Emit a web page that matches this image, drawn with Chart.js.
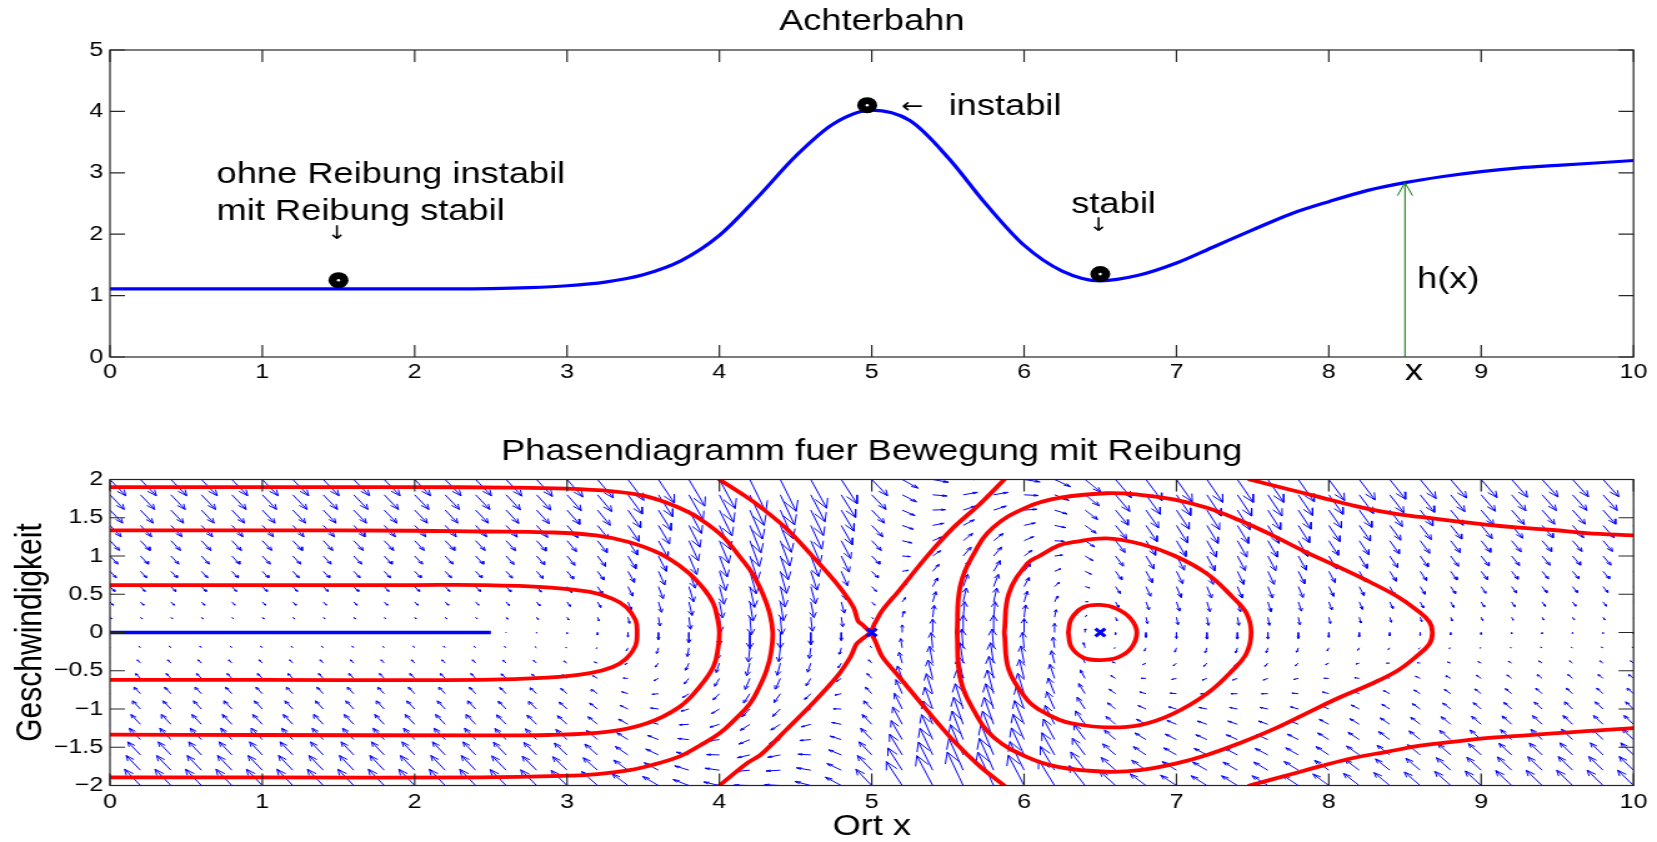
<!DOCTYPE html>
<html>
<head>
<meta charset="utf-8">
<script src="https://cdn.jsdelivr.net/npm/chart.js@4.4.1/dist/chart.umd.min.js"></script>
<style>
  html, body { margin: 0; padding: 0; background: #fff; }
  #wrap { position: relative; width: 1657px; height: 842px; overflow: hidden; background: #fff; }
  canvas { position: absolute; left: 0; }
</style>
</head>
<body>
<div id="wrap">
  <canvas id="oben" width="1326" height="420" style="top:0px;width:1657px;height:420px"></canvas>
  <canvas id="unten" width="1326" height="422" style="top:420px;width:1657px;height:422px"></canvas>
</div>
<script>
// ---------- Achterbahn: Hoehenprofil h(x) ----------
const bahnX = [0, 0.25, 0.5, 0.75, 1, 1.25, 1.5, 1.75, 2, 2.25, 2.5, 2.75, 3, 3.25, 3.5, 3.75,
  4, 4.25, 4.5, 4.75, 5, 5.25, 5.5, 5.75, 6, 6.25, 6.5, 6.75, 7, 7.25, 7.5, 7.75,
  8, 8.25, 8.5, 8.75, 9, 9.25, 9.5, 9.75, 10];
const bahnH = [1.11, 1.11, 1.11, 1.11, 1.11, 1.11, 1.11, 1.11, 1.11, 1.11, 1.115, 1.13, 1.16, 1.22, 1.34, 1.57,
  1.98, 2.60, 3.27, 3.80, 4.02, 3.85, 3.25, 2.49, 1.82, 1.40, 1.24, 1.33, 1.53, 1.80, 2.07, 2.33,
  2.53, 2.71, 2.84, 2.94, 3.02, 3.08, 3.12, 3.16, 3.20];

// Kugeln auf der Bahn
const kugelX = [1.5, 4.97, 6.5];
const kugelY = [1.25, 4.10, 1.35];

// Markierte Stelle x mit Pfeil bis zur Bahn
const pfeilX = 8.5;

// Achsenteilungen
const xTicks = [0, 1, 2, 3, 4, 5, 6, 7, 8, 9, 10];
const yTicksOben = [0, 1, 2, 3, 4, 5];
const yTicksUnten = [-2, -1.5, -1, -0.5, 0, 0.5, 1, 1.5, 2];

// ---------- Phasendiagramm: Richtungsfeld ----------
const gitterX = [0, 0.2, 0.4, 0.6, 0.8, 1, 1.2, 1.4, 1.6, 1.8, 2, 2.2, 2.4, 2.6, 2.8, 3, 3.2, 3.4, 3.6, 3.8,
  4, 4.2, 4.4, 4.6, 4.8, 5, 5.2, 5.4, 5.6, 5.8, 6, 6.2, 6.4, 6.6, 6.8, 7, 7.2, 7.4, 7.6, 7.8,
  8, 8.2, 8.4, 8.6, 8.8, 9, 9.2, 9.4, 9.6, 9.8, 10];
const gitterV = [-2, -1.8, -1.6, -1.4, -1.2, -1, -0.8, -0.6, -0.4, -0.2, 0, 0.2, 0.4, 0.6, 0.8, 1, 1.2, 1.4, 1.6, 1.8, 2];
// Hangabtrieb je Spalte (Beschleunigung bei v = 0)
const beschl = [0, 0, 0, 0, 0, 0, 0, 0, 0, 0, 0, 0, 0, -0.08, -0.15, -0.3, -0.55, -1.15, -1.8, -2.6,
  -3.2, -4.0, -3.9, -3.1, -2.0, 0, 1.9, 3.4, 4.3, 4.3, 3.5, 2.3, 0.9, -0.5, -1.2, -1.5, -1.65, -1.65, -1.65, -1.5,
  -1.2, -1.05, -0.85, -0.7, -0.55, -0.45, -0.35, -0.28, -0.25, -0.25, -0.25];
const reibung = 2.05;
const pfeilSkala = 0.052;

// ---------- Phasendiagramm: Bahnkurven ----------
const kurveAussen = [[0, 1.90], [1, 1.90], [2, 1.90], [2.6, 1.895], [3.0, 1.88], [3.3, 1.845], [3.5, 1.79],
  [3.65, 1.70], [3.8, 1.57], [3.92, 1.42], [4.03, 1.24], [4.13, 1.0], [4.22, 0.76], [4.29, 0.48], [4.33, 0.25],
  [4.35, 0], [4.34, -0.25], [4.31, -0.49], [4.26, -0.72], [4.20, -0.93], [4.10, -1.14], [4.0, -1.32],
  [3.87, -1.48], [3.74, -1.62], [3.58, -1.72], [3.41, -1.80], [3.2, -1.85], [2.97, -1.875], [2.43, -1.895],
  [1, -1.895], [0, -1.895]];
const kurveMitte = [[0, 1.335], [1, 1.335], [2, 1.33], [2.43, 1.32], [2.87, 1.31], [3.19, 1.27], [3.41, 1.18],
  [3.61, 1.03], [3.78, 0.81], [3.89, 0.59], [3.96, 0.38], [3.99, 0.16], [4.0, 0], [3.99, -0.22], [3.96, -0.45],
  [3.87, -0.71], [3.74, -0.97], [3.52, -1.19], [3.26, -1.30], [2.87, -1.34], [2.43, -1.345], [1, -1.34], [0, -1.335]];
const kurveInnen = [[0, 0.62], [1, 0.62], [2, 0.62], [2.43, 0.62], [2.87, 0.59], [3.15, 0.53], [3.30, 0.44],
  [3.39, 0.33], [3.45, 0.16], [3.46, 0], [3.45, -0.17], [3.39, -0.34], [3.30, -0.45], [3.15, -0.53],
  [2.87, -0.59], [2.43, -0.62], [1, -0.62], [0, -0.62]];
const separatrixAb = [[4.0, 2.0], [4.18, 1.77], [4.27, 1.64], [4.44, 1.36], [4.61, 1.0], [4.77, 0.64], [4.88, 0.33],
  [4.91, 0.15], [4.94, 0.10], [4.99, 0], [5.02, -0.10], [5.07, -0.32], [5.18, -0.58], [5.36, -1.01],
  [5.53, -1.40], [5.71, -1.75], [5.87, -2.0]];
const separatrixAuf = [[4.0, -2.0], [4.18, -1.71], [4.27, -1.60], [4.44, -1.27], [4.61, -0.93], [4.77, -0.58],
  [4.86, -0.32], [4.90, -0.15], [4.94, -0.08], [4.99, 0], [5.02, 0.12], [5.07, 0.29], [5.18, 0.55],
  [5.36, 0.99], [5.53, 1.36], [5.71, 1.68], [5.87, 2.0]];
const ringGross = [[5.56, 0], [5.58, 0.60], [5.67, 1.03], [5.80, 1.38], [6.02, 1.64], [6.23, 1.76], [6.54, 1.82],
  [6.76, 1.80], [6.98, 1.74], [7.20, 1.63], [7.41, 1.47], [7.63, 1.27], [7.85, 1.05], [8.07, 0.85], [8.27, 0.66],
  [8.45, 0.47], [8.58, 0.29], [8.66, 0.14], [8.68, 0], [8.66, -0.15], [8.57, -0.32], [8.45, -0.50], [8.27, -0.68],
  [8.07, -0.85], [7.85, -1.06], [7.63, -1.27], [7.41, -1.45], [7.20, -1.60], [6.98, -1.72], [6.76, -1.80],
  [6.54, -1.82], [6.23, -1.76], [6.02, -1.63], [5.80, -1.37], [5.67, -1.02], [5.58, -0.59], [5.56, 0]];
const ringMittel = [[5.87, 0], [5.90, 0.51], [6.02, 0.90], [6.10, 1.0], [6.23, 1.14], [6.32, 1.18], [6.54, 1.23],
  [6.76, 1.16], [6.98, 1.01], [7.20, 0.77], [7.37, 0.46], [7.46, 0.25], [7.49, 0], [7.46, -0.27], [7.37, -0.49],
  [7.20, -0.80], [6.98, -1.06], [6.76, -1.21], [6.54, -1.24], [6.32, -1.19], [6.23, -1.14], [6.10, -1.01],
  [6.02, -0.88], [5.90, -0.49], [5.87, 0]];
const ringKlein = [[6.29, 0], [6.31, 0.18], [6.39, 0.33], [6.50, 0.36], [6.61, 0.31], [6.70, 0.18], [6.74, 0],
  [6.70, -0.21], [6.61, -0.33], [6.50, -0.36], [6.39, -0.33], [6.31, -0.19], [6.29, 0]];
const kurveRechtsOben = [[7.48, 2.0], [7.74, 1.87], [7.94, 1.77], [8.16, 1.66], [8.38, 1.57], [8.60, 1.51],
  [8.81, 1.46], [9.03, 1.41], [9.25, 1.37], [9.47, 1.34], [9.69, 1.30], [10.0, 1.27]];
const kurveRechtsUnten = [[7.48, -2.0], [7.74, -1.86], [7.94, -1.75], [8.16, -1.64], [8.38, -1.56], [8.60, -1.48],
  [8.81, -1.43], [9.03, -1.38], [9.25, -1.35], [9.47, -1.32], [9.69, -1.29], [10.0, -1.25]];
const ruhelinie = [[0, 0], [2.5, 0]];
const gleichgewichte = [[5, 0], [6.5, 0]];

// ---------- Darstellung ----------
const SCHRIFT = "'Liberation Sans', Arial, Helvetica, sans-serif";
const PFEILSCHRIFT = "'DejaVu Sans', 'Liberation Sans', sans-serif";
Chart.defaults.font.family = SCHRIFT;
Chart.defaults.color = '#000';

const punkte = arr => arr.map(p => ({x: p[0], y: p[1]}));
const minus = v => String(v).replace('-', '\u2212');
const setzeTicks = werte => s => { s.ticks = werte.map(v => ({value: v})); };

// Achsenrahmen mit nach innen zeigenden Teilstrichen auf allen vier Seiten
const rahmen = {
  id: 'rahmen',
  afterDatasetsDraw(chart) {
    const {ctx, chartArea: a, scales: {x, y}} = chart;
    const len = 12;
    ctx.save();
    ctx.strokeStyle = '#262626';
    ctx.lineWidth = 1.2;
    ctx.beginPath();
    x.ticks.forEach(t => {
      const px = x.getPixelForValue(t.value);
      ctx.moveTo(px, a.bottom); ctx.lineTo(px, a.bottom - len);
      ctx.moveTo(px, a.top); ctx.lineTo(px, a.top + len);
    });
    y.ticks.forEach(t => {
      const py = y.getPixelForValue(t.value);
      ctx.moveTo(a.left, py); ctx.lineTo(a.left + len, py);
      ctx.moveTo(a.right, py); ctx.lineTo(a.right - len, py);
    });
    ctx.stroke();
    ctx.strokeRect(a.left, a.top, a.right - a.left, a.bottom - a.top);
    ctx.restore();
  }
};

// Beschriftungen im oberen Diagramm (Lage in Datenkoordinaten)
const notizen = [
  {text: 'ohne Reibung instabil', x: 0.70, y: 2.83, groesse: 29},
  {text: 'mit Reibung stabil', x: 0.70, y: 2.23, groesse: 29},
  {text: '\u2193', x: 1.49, y: 2.0, groesse: 19, align: 'center', basis: 'middle', pfeil: true},
  {text: '\u2190', x: 5.267, y: 4.07, groesse: 21, align: 'center', basis: 'middle', pfeil: true},
  {text: 'instabil', x: 5.505, y: 3.94, groesse: 29},
  {text: 'stabil', x: 6.31, y: 2.34, groesse: 29},
  {text: '\u2193', x: 6.49, y: 2.125, groesse: 19, align: 'center', basis: 'middle', pfeil: true},
  {text: 'h(x)', x: 8.58, y: 1.12, groesse: 29},
  {text: 'x', x: 8.5, y: -0.375, groesse: 29}
];

const beschriftung = {
  id: 'beschriftung',
  afterDraw(chart) {
    const {ctx, scales: {x, y}} = chart;
    ctx.save();
    // Pfeil von der x-Achse bis zur Bahn
    const px = x.getPixelForValue(pfeilX);
    const p0 = y.getPixelForValue(0);
    const p1 = y.getPixelForValue(bahnH[bahnX.indexOf(pfeilX)]);
    ctx.strokeStyle = '#008000';
    ctx.lineWidth = 1;
    ctx.beginPath();
    ctx.moveTo(px, p0); ctx.lineTo(px, p1);
    ctx.moveTo(px - 6, p1 + 13); ctx.lineTo(px, p1); ctx.lineTo(px + 6, p1 + 13);
    ctx.stroke();
    ctx.fillStyle = '#000';
    notizen.forEach(n => {
      ctx.font = n.groesse + 'px ' + (n.pfeil ? PFEILSCHRIFT : SCHRIFT);
      ctx.textAlign = n.align || 'left';
      ctx.textBaseline = n.basis || 'alphabetic';
      ctx.fillText(n.text, x.getPixelForValue(n.x), y.getPixelForValue(n.y));
    });
    ctx.restore();
  }
};

function achsen(yMin, yMax, yWerte, xHoehe, xPad, xTitel, yTitel) {
  const x = {
    type: 'linear', min: 0, max: 10,
    afterBuildTicks: setzeTicks(xTicks),
    afterFit: s => { s.height = xHoehe; },
    grid: {display: false, drawTicks: false}, border: {display: false},
    ticks: {padding: xPad, font: {size: 20}, color: '#000', callback: minus, autoSkip: false, maxRotation: 0}
  };
  const y = {
    type: 'linear', min: yMin, max: yMax,
    afterBuildTicks: setzeTicks(yWerte),
    afterFit: s => { s.width = 88; },
    grid: {display: false, drawTicks: false}, border: {display: false},
    ticks: {padding: 5.5, font: {size: 20}, color: '#000', callback: minus, autoSkip: false}
  };
  if (xTitel) x.title = {display: true, text: xTitel, color: '#000', font: {size: 29, lineHeight: 1}, padding: {top: 0, bottom: 0.5}};
  if (yTitel) y.title = {display: true, text: yTitel, color: '#000', font: {size: 30, lineHeight: 1}, padding: {top: 9.3, bottom: 0}};
  return {x, y};
}

const grundOptionen = {
  responsive: false, animation: false, devicePixelRatio: 1, events: []
};

// ---------- Oberes Diagramm ----------
const kugeln = kugelX.map((x, i) => ({x, y: kugelY[i]}));
new Chart(document.getElementById('oben'), {
  type: 'line',
  data: {
    datasets: [
      {data: kugeln, showLine: false, pointRadius: 1.3, pointBackgroundColor: '#fff', pointBorderWidth: 0},
      {data: kugeln, showLine: false, pointRadius: 8, pointBackgroundColor: '#000', pointBorderWidth: 0},
      {data: bahnX.map((x, i) => ({x, y: bahnH[i]})), borderColor: '#0000ff', borderWidth: 3.2,
       pointRadius: 0, cubicInterpolationMode: 'monotone', fill: false}
    ]
  },
  options: Object.assign({}, grundOptionen, {
    layout: {padding: {left: 0, right: 18.8, top: 0, bottom: 0}},
    plugins: {
      legend: {display: false}, tooltip: {enabled: false},
      title: {display: true, text: 'Achterbahn', fullSize: false, color: '#000',
              font: {size: 29, weight: 'normal'}, padding: {top: 5, bottom: 10.2}}
    },
    scales: achsen(0, 5, yTicksOben, 63, 3.5, null, null)
  }),
  plugins: [rahmen, beschriftung]
});

// ---------- Unteres Diagramm: Richtungspfeile ----------
const kopf = 0.33, kopfBreite = 0.33;
const pfeile = [];
gitterX.forEach((x, i) => {
  gitterV.forEach(v => {
    const u = pfeilSkala * v;
    const w = pfeilSkala * (beschl[i] - reibung * v);
    if (u === 0 && w === 0) return;
    const tx = x + u, ty = v + w;
    pfeile.push(
      {x, y: v}, {x: tx, y: ty}, {x: tx, y: null},
      {x: tx - kopf * (u + kopfBreite * w), y: ty - kopf * (w - kopfBreite * u)},
      {x: tx, y: ty},
      {x: tx - kopf * (u - kopfBreite * w), y: ty - kopf * (w + kopfBreite * u)},
      {x: tx, y: null}
    );
  });
});

const rot = (arr, spannung) => ({
  data: punkte(arr), borderColor: '#ff0000', borderWidth: 3.8, pointRadius: 0,
  tension: spannung, borderCapStyle: 'round', borderJoinStyle: 'round', fill: false
});

new Chart(document.getElementById('unten'), {
  type: 'line',
  data: {
    datasets: [
      {data: punkte(gleichgewichte), showLine: false, pointStyle: 'crossRot', pointRadius: 5.5,
       pointBorderWidth: 3, pointBorderColor: '#0000ff', pointBackgroundColor: '#0000ff'},
      {data: punkte(ruhelinie), borderColor: '#0000ff', borderWidth: 3.3, pointRadius: 0, fill: false},
      rot(kurveAussen, 0.4), rot(kurveMitte, 0.4), rot(kurveInnen, 0.4),
      rot(separatrixAb, 0.3), rot(separatrixAuf, 0.3),
      rot(ringGross, 0.4), rot(ringMittel, 0.4), rot(ringKlein, 0.35),
      rot(kurveRechtsOben, 0.4), rot(kurveRechtsUnten, 0.4),
      {data: pfeile, borderColor: '#0000ff', borderWidth: 1, pointRadius: 0, spanGaps: false,
       fill: false, tension: 0, borderCapStyle: 'butt'}
    ]
  },
  options: Object.assign({}, grundOptionen, {
    layout: {padding: {left: 0, right: 18.8, top: 0, bottom: 0}},
    plugins: {
      legend: {display: false}, tooltip: {enabled: false},
      title: {display: true, text: 'Phasendiagramm fuer Bewegung mit Reibung', fullSize: false, color: '#000',
              font: {size: 29, weight: 'normal'}, padding: {top: 14.6, bottom: 10.1}}
    },
    scales: achsen(-2, 2, yTicksUnten, 56.5, 4.5, 'Ort x', 'Geschwindigkeit')
  }),
  plugins: [rahmen]
});
</script>
</body>
</html>
